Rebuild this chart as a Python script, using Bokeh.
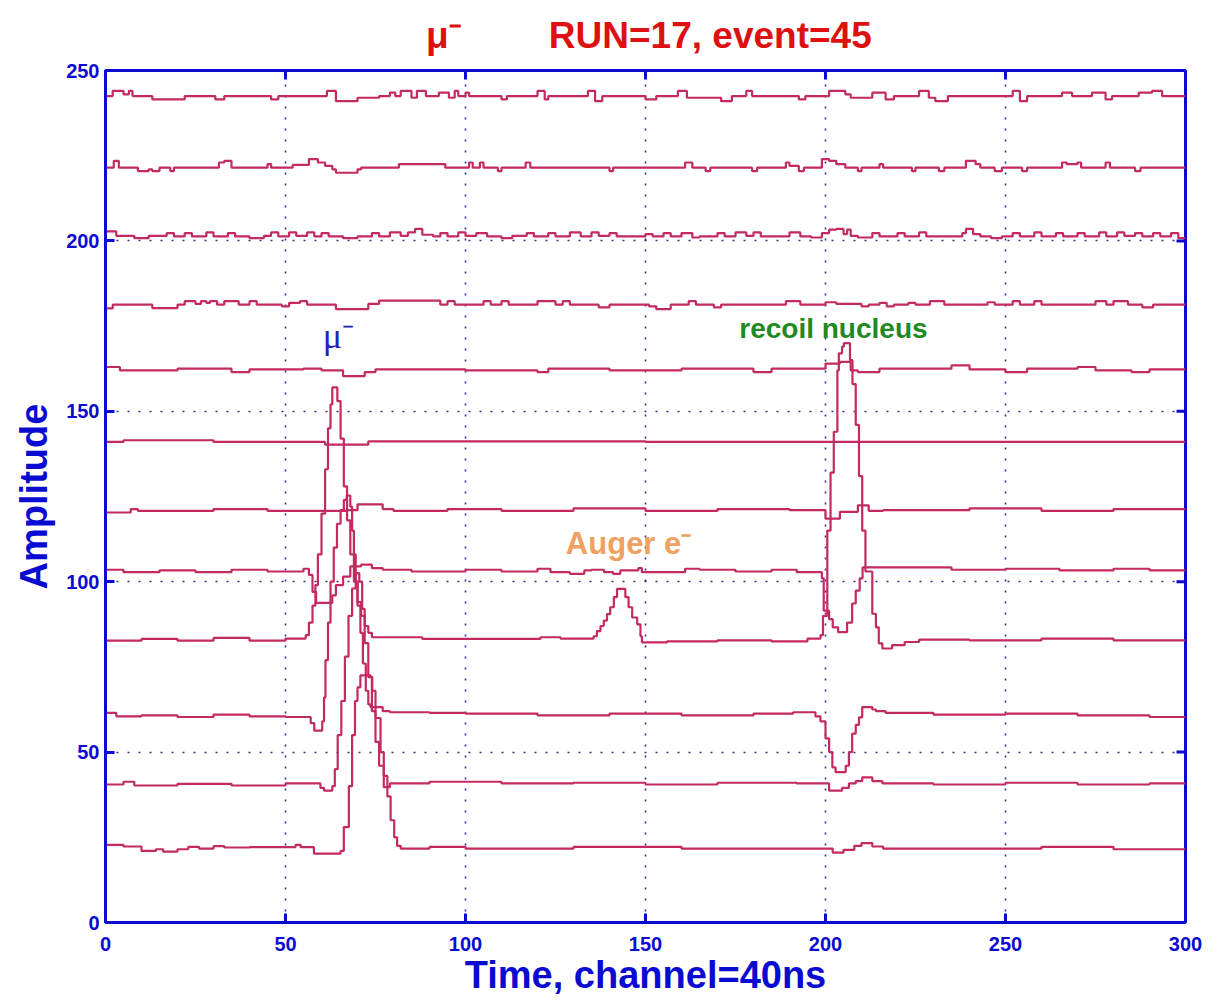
from bokeh.plotting import figure
from bokeh.models import Label, FixedTicker, Range1d, LinearAxis
from bokeh.embed import file_html
from bokeh.resources import INLINE
import math

# ---------------- data: step traces, (channel, amplitude) change points ----------------
x_ticks = [0, 50, 100, 150, 200, 250, 300]
y_ticks = [0, 50, 100, 150, 200, 250]

# heading pieces, placed along the time axis above the frame
heading_pos = [94, 168]
heading_txt = ["μ⁻", "RUN=17, event=45"]

ch01 = [(0,242.5),(2,244),(5,243),(6.5,244),(7.5,242.5),(13,241.5),(22,242.5),(30.5,241.5),(33,242.5),(46,241.5),(48,242.5),(61.5,244),(64,241),(70,242),(76,242.5),(79,243.5),(80.5,242.5),(82,244),(85,242),(86.5,244),(89,242.5),(92.6,243.5),(95.4,242),(97,244),(98,242.5),(100,243.5),(101,242.5),(110,241.5),(111.5,242.5),(120,244),(122,241.5),(123,242.5),(134,244),(136,241),(138,242.5),(150,241.5),(153,242.5),(159,244),(161.5,242),(171,241),(174,242.5),(178,244),(179.6,242.5),(192.6,241.5),(194.4,242.5),(201,244),(205.5,243),(207,242),(213,243.5),(216.7,241.5),(219,242.5),(226,244),(228.7,242),(230.5,241),(234,242.5),(252,244),(254,241),(256,242.5),(265.7,243.5),(268.5,242.5),(274,243.5),(277.8,241.5),(279.6,242.5),(287,243.5),(290.7,244),(293.5,242.5),(300,242.5)]

ch02 = [(0,221.5),(2.3,223.5),(3.7,221.5),(9,220.5),(12,221),(13,220.5),(15,221.5),(18,220.5),(19,221.5),(31.5,223),(33,223.5),(35,221.5),(45,222.5),(46,221.5),(52,222.3),(56.5,224),(59,223),(61,222),(63,221),(64,220),(70,221),(71,221.5),(81.5,222.5),(94.4,221.5),(101,223),(102,221.5),(104,223),(105,221.5),(109,220.5),(110,221.5),(116.7,223),(118,221.5),(140,220.5),(141,221.5),(161,223),(163,221.5),(166.7,220.5),(168,221.5),(179.6,220.5),(181,221.5),(189,223),(190,222),(192.6,220.5),(194,221.5),(199,224),(201,223.5),(203,222.5),(205.5,221.5),(209,220.5),(210,221.5),(215,222.5),(216,221.5),(224,220.5),(225,221.5),(231.5,220.5),(233,221.5),(239,223.5),(241.7,222.5),(243,221.5),(247,220.5),(249,221.5),(254.6,220.5),(256,221.5),(265.7,223),(267,222.5),(270,223),(271,221.5),(277.8,223),(279,221.5),(286,220.5),(287.5,221.5),(300,221.5)]

ch03 = [(0,202.8),(3,201.5),(8,200.8),(12,201.5),(17,202.3),(19,201.3),(22,202.3),(24,201.3),(28,202.5),(30,201.3),(34,202.3),(36,201.3),(40,200.8),(44,201.5),(46,202.5),(48,201.3),(51,202.5),(53,201.5),(56,202.5),(58,201.3),(60,202.3),(62,201.3),(66,200.8),(70,201.3),(74,202.3),(76,201.3),(79,202.5),(82,201.5),(84,202.5),(86,203.5),(88,201.8),(91,201.3),(93,202.3),(95,201.3),(98,202.5),(100,201.5),(103,202.3),(106,201.3),(110,200.8),(113,201.5),(117,202.3),(119,201.3),(123,202.3),(125,201.3),(129,202.5),(132,201.3),(135,202.5),(137,201.5),(140,202.3),(142,201.3),(150,202),(152,201.3),(155,202.3),(157,201.3),(160,202.3),(163,201),(165,201.3),(170,202.3),(172,201.3),(175,202.5),(178,201.5),(180,202.5),(182,201.3),(190,202.5),(193,201.3),(196,201),(199,202.3),(201,203.3),(203,203.5),(205,202),(206,203.3),(207,201.5),(209,201),(213,202.3),(215,201.3),(220,202.3),(222,201.3),(226,202.5),(228,201.3),(238,202.3),(239,203.5),(241,202),(243,201.3),(246,200.8),(249,201.3),(252,202.3),(254,201.3),(258,202.5),(260,201.3),(264,202.3),(266,201.3),(270,202.3),(272,201.3),(276,202.5),(278,201.3),(281,202.5),(283,201.5),(286,202.3),(288,201.3),(291,202.3),(293,201.3),(296,202.3),(298,200.8),(300,200.8)]

ch04 = [(0,180.2),(2,181.3),(13,180.3),(20,181.3),(22,182.3),(25,181.5),(26.5,182.3),(28,181.8),(29,182.3),(31,181.3),(33,182.3),(36,182.3),(37,181.3),(40,182.3),(42,181.3),(49,180.8),(51,181.8),(54,182.3),(56,181.3),(64,180.0),(73,181.5),(76,182.5),(93,181.3),(95,182.3),(97,181.3),(105,182.3),(107,181.3),(110,182.3),(112,181.3),(120,182.3),(125,181.3),(127,182.3),(129,181.3),(137,180.5),(140,181.3),(151,180.8),(153,180.0),(157,181.3),(162,182.3),(164,181.3),(169,180.5),(171,181.3),(189,182.3),(193,181.3),(200,182.0),(203,181.5),(210,180.8),(212,181.3),(215,181.8),(217,180.8),(219,181.3),(223,181.8),(225,181.3),(229,182.3),(233,181.3),(245,182.0),(247,181.3),(252,182.3),(254,181.3),(258,182.3),(260,181.3),(275,182.3),(278,181.3),(280,182.3),(284,181.3),(288,180.5),(291,181.3),(300,181.3)]

ch05 = [(0,163),(4,162),(20,162.5),(35,161.5),(40,162.3),(55,162.5),(60,162),(66,160.3),(72,161.5),(75,162.3),(100,162),(120,161.5),(123,162.5),(140,162),(160,162.5),(180,161.5),(185,162.5),(200,164),(204,164.5),(207,162),(209,161.5),(215,162.5),(235,163.5),(240,162.3),(250,161.5),(256,162.5),(270,163),(275,162),(285,161.5),(290,162.3),(300,162.3)]

ch06 = [(0,141),(5,141.5),(30,141),(61,140.2),(73,141.2),(150,141),(300,141)]

ch07 = [(0,120.3),(7,121.3),(9,120.8),(30,121.3),(45,120.8),(67,121),(70,122.7),(77,121.3),(80,120.8),(95,121.3),(110,120.8),(130,121.5),(150,120.8),(170,121.3),(190,121),(200,118.5),(204,120.5),(209,122.4),(212,120.8),(216,121),(240,121.5),(260,120.8),(280,121.3),(300,121.3)]

ch08 = [(0,103.5),(5,102.8),(15,103.3),(25,102.8),(35,103.5),(45,103),(55,103.8),(56.5,102),(57.5,97),(58.5,93.8),(63,96),(64,99),(66,101.5),(68,104.5),(71,105),(74,104),(77,103.5),(85,103),(100,103.5),(110,103),(120,103.8),(123.6,102.8),(129,102.3),(133,103.3),(135,103.5),(138.5,102.8),(141,102.3),(143,103.3),(148,104),(149,102.8),(161,103.8),(165,103.5),(175,103),(185,103.5),(192,102.8),(199,101),(199.5,91.5),(201,89),(202,86.6),(203.5,85.2),(206,88),(207.4,93.6),(208.4,97.4),(209.5,101),(210.3,104.2),(220,104.2),(235,103.5),(250,103.8),(265,103.3),(280,103.8),(290,103.3),(300,103.3)]

ch09 = [(0,82.7),(10,83.2),(20,82.7),(30,83.5),(40,82.7),(50,83.3),(55.6,84.3),(56.5,88),(57.5,93),(58.3,99),(59,108),(60,120),(61,133),(61.8,145),(62.5,152),(63,157),(64.4,153),(65.3,142),(66.2,128),(67.1,118),(68,108),(69,100),(70,94),(71,90),(72,87),(73,85),(74,83.7),(88,83.2),(120.8,83.7),(126.4,83.3),(135.6,84),(136.5,85.5),(137.5,87),(138.4,88.6),(139.3,90.5),(140.2,92.5),(141.2,95.5),(142.1,97.9),(144.4,95.5),(145.3,92.5),(146.3,89.5),(147.7,87.5),(148.6,84),(149,82.2),(156,82.5),(170,82.8),(185,82.5),(195,83.3),(198.6,84.3),(199.3,90),(200.5,115),(201.4,132),(202.3,144),(203.3,162),(203.7,167),(204.6,169),(205.1,170),(206.8,165),(207.5,158),(208.4,146),(209.3,131),(210.2,115),(211.1,103),(213,90.6),(214,86.6),(214.8,81.9),(215.8,80.4),(218.5,81.4),(222,82.3),(226,83),(240,82.8),(260,83.3),(280,82.8),(300,82.8)]

ch10 = [(0,61.5),(3,60.5),(10,60.8),(20,60.3),(30,61),(40,60.5),(50,60.3),(57,58.5),(58,56.3),(60.2,59),(60.7,66),(61.1,77),(61.8,88),(62.5,100),(63.4,110),(64.3,117),(65.3,121),(66.2,124),(67,125.3),(68,122),(68.5,115),(69,108),(69.5,100),(70,93),(70.8,85),(71.5,76),(72.3,68),(73,64),(73.6,63.2),(77,62),(79,61.7),(90,61.5),(100,61.3),(120,60.8),(140,61.3),(160,60.8),(180,61.3),(191,61.7),(197.2,60.5),(198.6,59),(200,54),(201,50),(201.9,45.5),(202.8,44.1),(205.6,46),(206.5,50),(207.4,55.4),(208.4,58),(209.3,60.2),(210.2,63.2),(213,62.5),(214,62),(216.7,61.5),(230,61),(250,61.3),(270,60.8),(290,60.3),(300,60.3)]

ch11 = [(0,40.5),(5,41.3),(8,40.2),(20,40.7),(35,40.2),(50,40.8),(59.7,39.5),(60.7,38.7),(63,40),(63.7,45),(64.5,55),(65.5,65),(66.5,78),(67.5,90),(68.5,98),(69.5,102.5),(70.5,100),(71.3,92),(72,82),(73,72),(74,62),(75,53),(76,46),(77.3,39.7),(79,40.8),(90,41.3),(110,40.8),(130,41),(150,40.5),(170,41),(192,40.8),(201,38.7),(204.6,39.5),(206.5,40.8),(208.4,41.5),(210.2,42.6),(213,41.5),(215.8,40.8),(230,40.5),(250,41),(270,40.5),(290,40.8),(300,40.8)]

ch12 = [(0,22.8),(5,22.3),(10,21),(14,21.5),(16,20.8),(20,21.5),(23,22.2),(26,21.7),(30,22.4),(33,22),(40,22.1),(52.8,22.8),(54.2,22.1),(57.9,20.2),(65.3,21),(66.2,28),(67.6,40),(68.5,55),(69.3,65),(70,69),(70.8,72.5),(73.6,72),(74.1,68),(75,60),(76.4,50),(77.3,43),(78.3,37),(79.2,30),(80.2,25),(81,22.5),(82,21.7),(90,22.2),(100,21.7),(130,22.2),(160,21.7),(200,21.7),(202,20.5),(205,21.3),(208,22.5),(210,23.3),(213,22.3),(216,21.7),(240,21.7),(260,22.2),(280,21.5),(300,21.5)]

traces = [ch01, ch02, ch03, ch04, ch05, ch06, ch07, ch08, ch09, ch10, ch11, ch12]

# ---------------- styling ----------------
BLUE = "#0a0ad0"
TRACE = "#c42a62"
RED = "#dd1111"
FONT = "Liberation Sans"

p = figure(width=1209, height=1000, output_backend="svg", toolbar_location=None,
           x_range=Range1d(0, 300), y_range=Range1d(0, 250),
           min_border_left=105, min_border_right=24, min_border_top=70, min_border_bottom=78)
p.background_fill_color = "white"
p.outline_line_color = BLUE
p.outline_line_width = 3

xa = p.below[0]
ya = p.left[0]

p.xgrid.ticker = FixedTicker(ticks=x_ticks)
p.ygrid.ticker = FixedTicker(ticks=y_ticks)
for g in (p.xgrid[0], p.ygrid[0]):
    g.grid_line_color = "#1c1c7a"
    g.grid_line_width = 1.6
    g.grid_line_dash = "2 9"
    g.grid_line_alpha = 0.9

for tr in traces:
    xs = [a for a, b in tr]
    ys = [b for a, b in tr]
    p.step(xs, ys, mode="after", line_color=TRACE, line_width=2.2)

# inward tick marks on the top and right frame edges (half of each dash is clipped away)
p.scatter(x=x_ticks, y=[250] * len(x_ticks), marker="dash", angle=math.pi / 2, size=18,
          line_color=BLUE, line_width=3)
p.scatter(x=[300] * len(y_ticks), y=y_ticks, marker="dash", size=18,
          line_color=BLUE, line_width=3)

for ax in (xa, ya):
    ax.axis_line_color = BLUE
    ax.axis_line_width = 3
    ax.major_tick_line_color = BLUE
    ax.major_tick_line_width = 3
    ax.major_tick_in = 9
    ax.major_tick_out = 0
    ax.minor_tick_line_color = None
    ax.major_label_text_color = BLUE
    ax.major_label_text_font = FONT
    ax.major_label_text_font_style = "bold"
    ax.major_label_text_font_size = "20px"
    ax.axis_label_text_color = BLUE
    ax.axis_label_text_font = FONT
    ax.axis_label_text_font_style = "bold"
    ax.axis_label_text_font_size = "38px"

xa.ticker = FixedTicker(ticks=x_ticks)
ya.ticker = FixedTicker(ticks=y_ticks)
xa.axis_label = "Time, channel=40ns"
ya.axis_label = "Amplitude"
xa.major_label_standoff = 14
ya.major_label_standoff = 6
xa.axis_label_standoff = 0
ya.axis_label_standoff = 8

# heading: an unlined axis above the frame carrying the two heading texts
head = LinearAxis(ticker=FixedTicker(ticks=heading_pos),
                  major_label_overrides={k: v for k, v in zip(heading_pos, heading_txt)},
                  axis_line_color=None, major_tick_line_color=None, minor_tick_line_color=None,
                  major_tick_in=0, major_tick_out=0, major_label_standoff=15,
                  major_label_text_color=RED, major_label_text_font=FONT,
                  major_label_text_font_style="bold", major_label_text_font_size="37px")
p.add_layout(head, "above")

# ---------------- annotations ----------------
p.add_layout(Label(x=64.7, y=172.2, text="μ⁻", text_color="#2424b0", text_font="Liberation Serif",
                   text_font_size="36px", text_align="center", text_baseline="middle"))
p.add_layout(Label(x=202.2, y=174.3, text="recoil nucleus", text_color="#1f8a1f", text_font=FONT,
                   text_font_style="bold", text_font_size="28px", text_align="center", text_baseline="middle"))
p.add_layout(Label(x=145.3, y=111.2, text="Auger e⁻", text_color="#f0a060", text_font=FONT,
                   text_font_style="bold", text_font_size="31px", text_align="center", text_baseline="middle"))

open("out.html", "w").write(file_html(p, INLINE))
